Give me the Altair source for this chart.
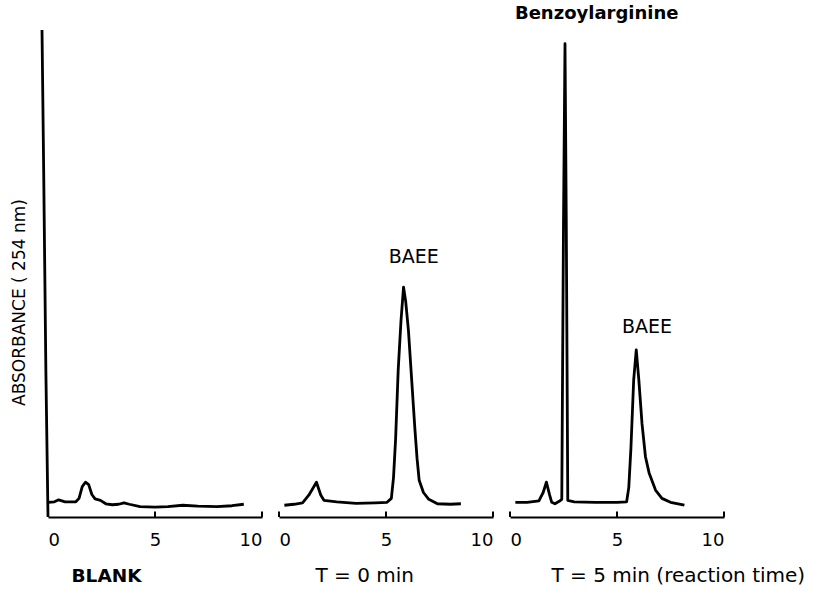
import altair as alt
import pandas as pd

# ---- data (time in min, absorbance in arbitrary units 0-100) ----
blank_t = [0.0, 0.3, 0.5, 0.8, 1.3, 1.45, 1.6, 1.75, 1.9, 2.05, 2.2, 2.45, 2.7, 3.0, 3.3, 3.55, 3.8, 4.3, 5.0, 5.6, 6.3, 7.0, 7.9, 8.6, 9.15]
blank_a = [3.0, 3.1, 3.5, 3.1, 3.1, 3.8, 6.2, 7.1, 6.6, 4.6, 3.7, 3.4, 2.7, 2.5, 2.6, 2.9, 2.6, 2.1, 2.0, 2.1, 2.4, 2.2, 2.1, 2.3, 2.6]
solvent_t = [-0.28, -0.2, -0.1, 0.0]
solvent_a = [99.4, 70.0, 30.0, 0.0]

t0_t = [0.25, 0.7, 1.1, 1.4, 1.75, 1.95, 2.1, 2.7, 3.6, 4.5, 5.05, 5.25, 5.35, 5.45, 5.57, 5.7, 5.82, 5.92, 6.05, 6.2, 6.35, 6.45, 6.55, 6.75, 7.0, 7.4, 8.0, 8.5]
t0_a = [2.4, 2.6, 2.9, 4.5, 7.1, 4.5, 3.4, 3.1, 2.8, 2.9, 3.0, 3.8, 8.0, 16.0, 30.0, 40.0, 46.9, 44.0, 38.0, 28.0, 18.0, 12.0, 7.5, 5.0, 3.6, 2.7, 2.6, 2.7]

t5_t = [0.25, 0.8, 1.35, 1.55, 1.7, 1.85, 1.95, 2.1, 2.3, 2.42, 2.5, 2.57, 2.63, 2.7, 3.0, 4.0, 5.0, 5.45, 5.55, 5.65, 5.78, 5.9, 6.02, 6.17, 6.33, 6.5, 6.8, 7.1, 7.5, 8.15]
t5_a = [3.0, 3.0, 3.3, 5.0, 7.1, 4.5, 3.0, 2.7, 3.2, 3.6, 60.0, 96.6, 60.0, 3.4, 3.1, 3.0, 3.0, 3.1, 6.0, 14.0, 28.0, 34.1, 28.0, 19.0, 12.3, 9.0, 5.5, 3.8, 3.0, 2.4]

tick_values = [0, 5, 10]

label_text = ["BAEE", "BAEE"]
label_t = [6.3, 6.4]
label_a = [53.0, 38.8]

peak_name = ["Benzoylarginine"]
peak_name_t = [0.23]
peak_name_a = [102.6]

panel_titles = ["BLANK", "T = 0 min", "T = 5 min (reaction time)"]
y_title = "ABSORBANCE ( 254 nm)"

FONT = "DejaVu Sans"
W, H = 214, 490

xscale = alt.Scale(domain=[0, 10], nice=False, zero=False)
yscale = alt.Scale(domain=[0, 100], nice=False)


def make_panel(series, title, title_x, bold, first, texts=None, extra_text=None):
    frames = []
    for name, (ts, av) in series.items():
        frames.append(pd.DataFrame({"t": ts, "a": av, "s": name}))
    df = pd.concat(frames, ignore_index=True)

    xaxis = alt.Axis(values=tick_values, format="d", ticks=False, grid=False,
                     domainColor="black", domainWidth=2,
                     labelFontSize=18, labelFont=FONT, labelColor="black", labelPadding=14,
                     labelFlush=True,
                     title=title, titleFont=FONT, titleFontSize=18.5 if bold else 20,
                     titleFontWeight="bold" if bold else "normal", titleColor="black",
                     titleAnchor="start", titleAlign="left", titleX=title_x, titleY=64,
                     titleBaseline="alphabetic")
    if first:
        yaxis = alt.Axis(domain=False, ticks=False, labels=False, grid=False,
                         title=y_title, titleFont=FONT, titleFontSize=17,
                         titleFontWeight="normal", titleColor="black", titlePadding=20,
                         titleY=275, titleAlign="center", titleAngle=270)
    else:
        yaxis = None

    line = alt.Chart(df).mark_line(color="black", strokeWidth=2.8, strokeJoin="round").encode(
        x=alt.X("t:Q", scale=xscale, axis=xaxis),
        y=alt.Y("a:Q", scale=yscale, axis=yaxis),
        detail="s:N",
        order="t:Q",
    )
    tdf = pd.DataFrame({"t": tick_values})
    ticks = alt.Chart(tdf).mark_rule(color="black", strokeWidth=2).encode(
        x="t:Q", y=alt.datum(0), y2=alt.datum(1.1)
    )
    layers = [line, ticks]
    if texts is not None:
        tx = pd.DataFrame(texts)
        layers.append(alt.Chart(tx).mark_text(font=FONT, fontSize=19, color="black", align="center",
                                              baseline="middle").encode(x="t:Q", y="a:Q", text="label:N"))
    if extra_text is not None:
        ex = pd.DataFrame(extra_text)
        layers.append(alt.Chart(ex).mark_text(font=FONT, fontSize=18, fontWeight="bold", color="black",
                                              align="left", baseline="middle").encode(x="t:Q", y="a:Q", text="label:N"))
    return alt.layer(*layers).properties(width=W, height=H)


p1 = make_panel({"blank": (blank_t, blank_a), "solvent": (solvent_t, solvent_a)},
                panel_titles[0], 23, True, True)
p2 = make_panel({"t0": (t0_t, t0_a)}, panel_titles[1], 36, False, False,
                texts={"t": [label_t[0]], "a": [label_a[0]], "label": [label_text[0]]})
p3 = make_panel({"t5": (t5_t, t5_a)}, panel_titles[2], 41, False, False,
                texts={"t": [label_t[1]], "a": [label_a[1]], "label": [label_text[1]]},
                extra_text={"t": peak_name_t, "a": peak_name_a, "label": peak_name})

chart = alt.hconcat(p1, p2, p3, spacing=17, bounds="flush").properties(
    padding={"left": 10, "top": 5, "right": 5, "bottom": 5},
    background="white",
).configure_view(stroke=None)

chart.save("out.html", embed_options={"renderer": "svg", "actions": False})
